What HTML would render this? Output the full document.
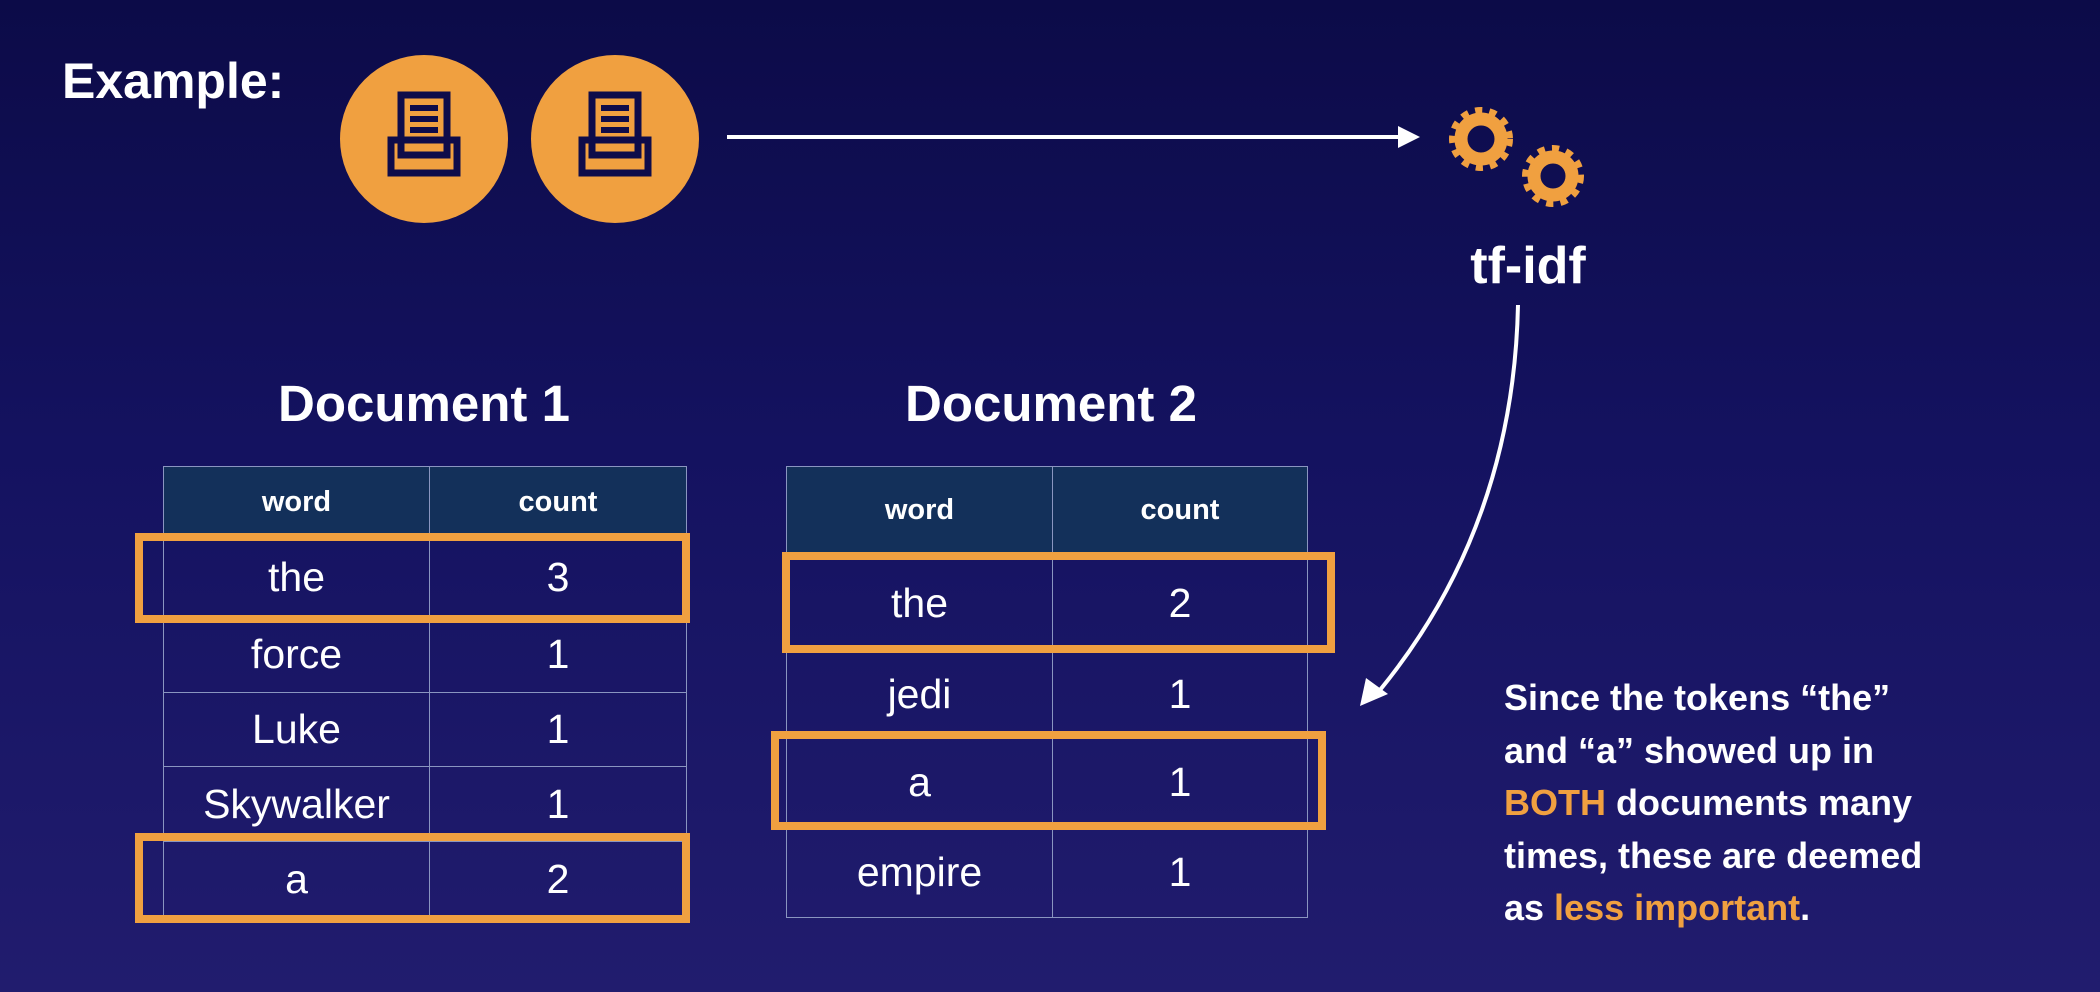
<!DOCTYPE html>
<html><head><meta charset="utf-8"><style>
html,body{margin:0;padding:0}
body{width:2100px;height:992px;overflow:hidden;background:linear-gradient(180deg,#0c0b48 0%,#141260 45%,#211c6e 100%);font-family:"Liberation Sans",sans-serif;position:relative;color:#fff}
.t{position:absolute;font-weight:bold;white-space:nowrap}
table{position:absolute;border-collapse:collapse}
td{border:1.5px solid #8a95c0;text-align:center;color:#fff;font-size:41px;padding:0}
th{border:1.5px solid #8a95c0;background:#13305a;font-size:29px;font-weight:bold;color:#fff;padding:0}
.hl{position:absolute;border:8px solid #f0a040;box-sizing:border-box}
.txt{position:absolute;left:1504px;top:672px;font-size:36px;font-weight:bold;line-height:52.5px;white-space:nowrap}
.o{color:#f0a040}
</style></head><body>
<div class="t" style="left:62px;top:52px;font-size:50px">Example:</div>
<div class="t" style="left:257px;top:374px;font-size:51px;width:334px;text-align:center">Document 1</div>
<div class="t" style="left:870px;top:374px;font-size:51px;width:362px;text-align:center">Document 2</div>
<div class="t" style="left:1430px;top:236px;font-size:52px;width:196px;text-align:center">tf-idf</div>

<svg width="2100" height="992" style="position:absolute;left:0;top:0">
 <circle cx="424" cy="139" r="84" fill="#f0a040"/>
 <circle cx="615" cy="139" r="84" fill="#f0a040"/>
 <g fill="none" stroke="#0e0c4a" stroke-width="7">
  <rect x="401" y="95" width="46" height="60"/><rect x="391" y="140" width="66" height="33"/>
  <rect x="592" y="95" width="46" height="60"/><rect x="582" y="140" width="66" height="33"/>
 </g>
 <g fill="#0e0c4a">
  <rect x="410" y="105" width="28" height="6"/><rect x="410" y="116" width="28" height="6"/><rect x="410" y="127" width="28" height="6"/>
  <rect x="601" y="105" width="28" height="6"/><rect x="601" y="116" width="28" height="6"/><rect x="601" y="127" width="28" height="6"/>
 </g>
 <line x1="727" y1="137" x2="1400" y2="137" stroke="#fff" stroke-width="4"/>
 <polygon points="1398,126 1420,137 1398,148" fill="#fff"/>
 <g fill="none" stroke="#f0a040">
  <circle cx="1481" cy="139" r="20" stroke-width="13"/>
  <circle cx="1481" cy="139" r="28" stroke-width="8" stroke-dasharray="7 7"/>
  <circle cx="1553" cy="176" r="19" stroke-width="13"/>
  <circle cx="1553" cy="176" r="27" stroke-width="8" stroke-dasharray="7 7"/>
 </g>
 <path d="M1518 305 C1515 450 1470 580 1380 690" fill="none" stroke="#fff" stroke-width="4"/>
 <polygon points="1360,706 1366,678 1388,694" fill="#fff"/>
</svg>

<table style="left:163px;top:466px;width:524px">
<tr style="height:72px"><th style="width:265px">word</th><th>count</th></tr>
<tr style="height:78px"><td>the</td><td>3</td></tr>
<tr style="height:76px"><td>force</td><td>1</td></tr>
<tr style="height:74px"><td>Luke</td><td>1</td></tr>
<tr style="height:75px"><td>Skywalker</td><td>1</td></tr>
<tr style="height:76px"><td>a</td><td>2</td></tr>
</table>
<table style="left:786px;top:466px;width:522px">
<tr style="height:87px"><th style="width:265px">word</th><th>count</th></tr>
<tr style="height:99px"><td>the</td><td>2</td></tr>
<tr style="height:84px"><td>jedi</td><td>1</td></tr>
<tr style="height:91px"><td>a</td><td>1</td></tr>
<tr style="height:90px"><td>empire</td><td>1</td></tr>
</table>
<div class="hl" style="left:135px;top:533px;width:555px;height:90px"></div>
<div class="hl" style="left:135px;top:833px;width:555px;height:90px"></div>
<div class="hl" style="left:782px;top:552px;width:553px;height:101px"></div>
<div class="hl" style="left:771px;top:731px;width:555px;height:99px"></div>

<div class="txt">Since the tokens “the”<br>and “a” showed up in<br><span class="o">BOTH</span> documents many<br>times, these are deemed<br>as <span class="o">less important</span>.</div>
</body></html>
